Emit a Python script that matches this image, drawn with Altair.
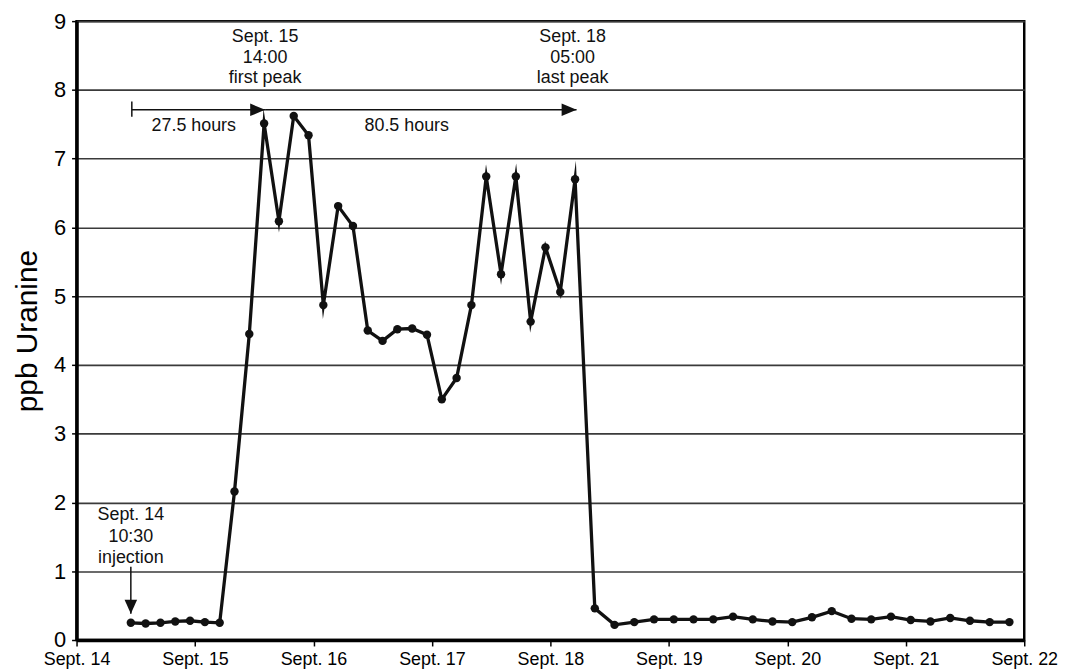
import altair as alt
import pandas as pd

# --- measured series: hours after Sept. 14 00:00, ppb Uranine ---
hours = [11, 14, 17, 20, 23, 26, 29, 32, 35, 38, 41, 44, 47, 50, 53, 56, 59, 62,
         65, 68, 71, 74, 77, 80, 83, 86, 89, 92, 95, 98, 101,
         105, 109, 113, 117, 121, 125, 129, 133, 137, 141, 145, 149, 153, 157,
         161, 165, 169, 173, 177, 181, 185, 189]
ppb = [0.25, 0.24, 0.25, 0.27, 0.28, 0.26, 0.25, 2.16, 4.45, 7.51, 6.09, 7.62,
       7.34, 4.87, 6.31, 6.02, 4.50, 4.35, 4.52, 4.53, 4.44, 3.50, 3.81, 4.87,
       6.74, 5.32, 6.74, 4.63, 5.71, 5.06, 6.70,
       0.46, 0.22, 0.26, 0.30, 0.30, 0.30, 0.30, 0.34, 0.30, 0.27, 0.26, 0.33,
       0.42, 0.31, 0.30, 0.34, 0.29, 0.27, 0.32, 0.28, 0.26, 0.26]

day_ticks = [0, 24, 48, 72, 96, 120, 144, 168, 192]
y_ticks = [0, 1, 2, 3, 4, 5, 6, 7, 8, 9]

# annotation text lines
note_text = ["Sept. 15", "14:00", "first peak",
             "Sept. 18", "05:00", "last peak",
             "Sept. 14", "10:30", "injection",
             "27.5 hours", "80.5 hours"]
note_hour = [38.2, 38.2, 38.2, 100.5, 100.5, 100.5, 11.0, 11.0, 11.0, 23.75, 66.9]
note_ppb = [8.70, 8.39, 8.10, 8.70, 8.39, 8.10, 1.74, 1.43, 1.127, 7.40, 7.40]

# horizontal arrows (27.5 h and 80.5 h)
arrow_start = [11.2, 38.2]
arrow_end = [38.2, 101.3]
arrow_level = [7.71, 7.71]

# injection arrow
inj_hour = [11.0]
inj_top = [1.065]
inj_tip = [0.383]

FONT = "Liberation Sans"
INK = "#111111"

df = pd.DataFrame({"hour": hours, "ppb": ppb})
notes = pd.DataFrame({"hour": note_hour, "ppb": note_ppb, "text": note_text})
arrows = pd.DataFrame({"hour": arrow_start, "hour2": arrow_end, "ppb": arrow_level})
heads_r = pd.DataFrame({"hour": arrow_end, "ppb": arrow_level})
start_bar = pd.DataFrame({"hour": [arrow_start[0]], "ppb": [arrow_level[0] + 0.12],
                          "ppb2": [arrow_level[0] - 0.10]})
inj = pd.DataFrame({"hour": inj_hour, "ppb": inj_top, "ppb2": inj_tip})
inj_head = pd.DataFrame({"hour": inj_hour, "ppb": inj_tip})

xscale = alt.Scale(domain=[0, 192], nice=False, zero=False)
yscale = alt.Scale(domain=[0, 9], nice=False, zero=True)

x_main = alt.X(
    "hour:Q", scale=xscale,
    axis=alt.Axis(values=day_ticks, labelExpr="'Sept. ' + (14 + datum.value / 24)",
                  title=None, grid=False, tickSize=6, labelPadding=5,
                  labelFontSize=18, domainWidth=3.5, tickWidth=1.5,
                  labelFlush=False, labelOverlap=False, labelBound=False),
)
y_main = alt.Y(
    "ppb:Q", scale=yscale,
    axis=alt.Axis(values=y_ticks, format="d", title="ppb Uranine", titleFontSize=30,
                  titleFontWeight="normal", titlePadding=11, grid=True,
                  gridColor="#3a3a3a", gridWidth=1.6, tickSize=5, labelPadding=6,
                  labelFontSize=22, domainWidth=3.5, tickWidth=1.5,
                  labelFlush=False, labelOverlap=False),
)
x_s = alt.X("hour:Q", scale=xscale)
y_s = alt.Y("ppb:Q", scale=yscale)

line = alt.Chart(df).mark_line(color=INK, strokeWidth=3.3, strokeJoin="miter",
                               strokeMiterLimit=20).encode(x=x_main, y=y_main)
dots = alt.Chart(df).mark_point(filled=True, shape="circle", size=72, color=INK,
                                opacity=1).encode(x=x_s, y=y_s)

arrow_lines = alt.Chart(arrows).mark_rule(color=INK, strokeWidth=1.5).encode(
    x=x_s, x2="hour2:Q", y=y_s)
arrow_heads = alt.Chart(heads_r).mark_point(
    filled=True, opacity=1, color=INK, size=900,
    shape="M0,0L-1,-0.42L-1,0.42Z").encode(x=x_s, y=y_s)
bar = alt.Chart(start_bar).mark_rule(color=INK, strokeWidth=1.5).encode(
    x=x_s, y=y_s, y2="ppb2:Q")
inj_line = alt.Chart(inj).mark_rule(color=INK, strokeWidth=1.5).encode(
    x=x_s, y=y_s, y2="ppb2:Q")
inj_arrow = alt.Chart(inj_head).mark_point(
    filled=True, opacity=1, color=INK, size=784,
    shape="M0,0L-0.45,-1L0.45,-1Z").encode(x=x_s, y=y_s)

texts = alt.Chart(notes).mark_text(font=FONT, fontSize=18, align="center",
                                   baseline="alphabetic", color=INK).encode(
    x=x_s, y=y_s, text="text:N")

chart = alt.layer(line, dots, arrow_lines, arrow_heads, bar, inj_line, inj_arrow,
                  texts).properties(
    width=954, height=623,
    padding={"left": 69, "top": 11, "right": 36, "bottom": 30},
    autosize=alt.AutoSizeParams(type="none"),
    background="white",
).configure_view(stroke="black", strokeWidth=2.5).configure_axis(
    labelFont=FONT, titleFont=FONT, labelColor="black", titleColor="black",
    domainColor="black", tickColor="black", domainWidth=3.5,
)

chart.save("out.html", embed_options={"renderer": "svg", "actions": False})
